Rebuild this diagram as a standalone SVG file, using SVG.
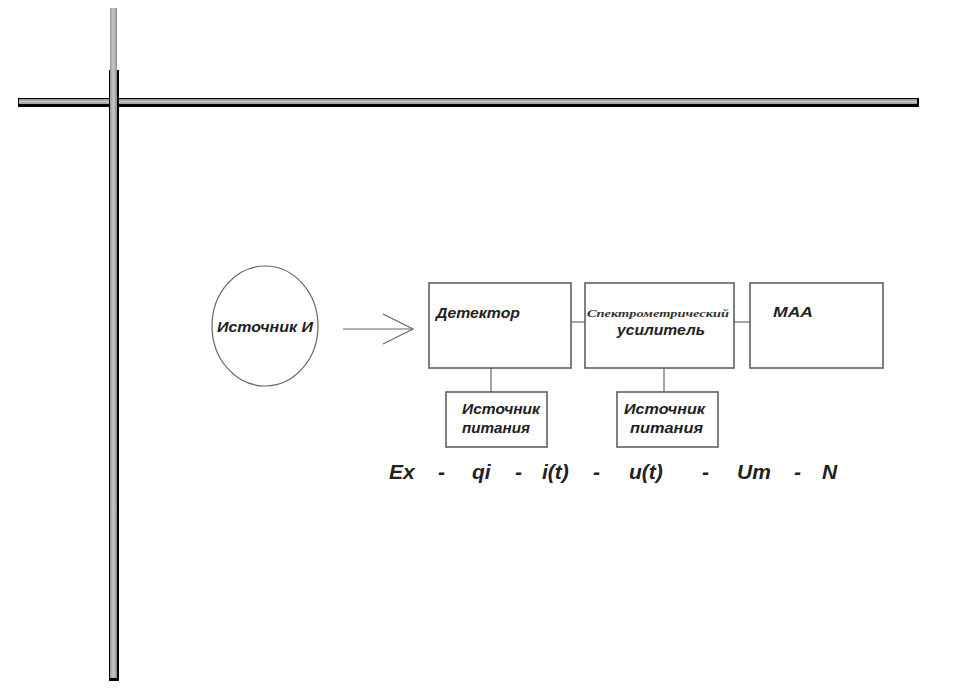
<svg xmlns="http://www.w3.org/2000/svg" width="960" height="699" viewBox="0 0 960 699">
<style>
.box{fill:#fff;stroke:#555;stroke-width:1.5}
.ln{stroke:#666;stroke-width:1.2;fill:none}
.lbl{font-family:"Liberation Sans",Arial,sans-serif;font-weight:bold;font-style:italic;fill:#222}
.sm{font-family:"Liberation Serif","Times New Roman",serif;font-weight:bold;font-style:italic;fill:#333}
</style>
<defs>
<linearGradient id="gh" x1="0" y1="0" x2="0" y2="1">
<stop offset="0" stop-color="#8c8c8c"/>
<stop offset="0.5" stop-color="#c4c4c4"/>
<stop offset="1" stop-color="#9a9a9a"/>
</linearGradient>
<linearGradient id="gv" x1="0" y1="0" x2="1" y2="0">
<stop offset="0" stop-color="#9a9a9a"/>
<stop offset="0.5" stop-color="#c8c8c8"/>
<stop offset="1" stop-color="#8c8c8c"/>
</linearGradient>
</defs>
<rect width="960" height="699" fill="#fff"/>
<g id="frame">
<rect x="18" y="98" width="901" height="9" fill="#000"/>
<rect x="19" y="99" width="898" height="5" fill="url(#gh)"/>
<rect x="110" y="8" width="7" height="62" fill="url(#gv)"/>
<rect x="109" y="70" width="10" height="611" fill="#000"/>
<rect x="110" y="70" width="7" height="608" fill="url(#gv)"/>
</g>
<g id="connectors">
<line class="ln" x1="343" y1="329" x2="413" y2="329"/>
<polyline class="ln" points="383,314 413,329 383,344"/>
<line class="ln" x1="571" y1="322" x2="585" y2="322"/>
<line class="ln" x1="734" y1="322" x2="750" y2="322"/>
<line class="ln" x1="491" y1="368" x2="491" y2="392"/>
<line class="ln" x1="664" y1="368" x2="664" y2="392"/>
</g>
<g id="source">
<ellipse cx="265" cy="326" rx="53" ry="60" fill="#fff" stroke="#666" stroke-width="1.2"/>
<text class="lbl" x="217" y="332" font-size="14" textLength="96" lengthAdjust="spacingAndGlyphs">Источник И</text>
</g>
<g id="detector">
<rect class="box" x="429" y="283" width="142" height="85"/>
<text class="lbl" x="436" y="318" font-size="14" textLength="84" lengthAdjust="spacingAndGlyphs">Детектор</text>
</g>
<g id="amplifier">
<rect class="box" x="585" y="283" width="149" height="85"/>
<text class="sm" x="587" y="317" font-size="10.5" textLength="142" lengthAdjust="spacingAndGlyphs">Спектрометрический</text>
<text class="lbl" x="617" y="335" font-size="14" textLength="88" lengthAdjust="spacingAndGlyphs">усилитель</text>
</g>
<g id="maa">
<rect class="box" x="750" y="283" width="133" height="85"/>
<text class="lbl" x="773" y="317" font-size="14" textLength="40" lengthAdjust="spacingAndGlyphs">MAA</text>
</g>
<g id="power1">
<rect class="box" x="446" y="392" width="101" height="55"/>
<text class="lbl" x="462" y="414" font-size="14" textLength="78" lengthAdjust="spacingAndGlyphs">Источник</text>
<text class="lbl" x="462" y="433" font-size="14" textLength="68" lengthAdjust="spacingAndGlyphs">питания</text>
</g>
<g id="power2">
<rect class="box" x="617" y="392" width="101" height="55"/>
<text class="lbl" x="624" y="414" font-size="14" textLength="81" lengthAdjust="spacingAndGlyphs">Источник</text>
<text class="lbl" x="630" y="433" font-size="14" textLength="73" lengthAdjust="spacingAndGlyphs">питания</text>
</g>
<g id="formula">
<text class="lbl" y="479" font-size="21"><tspan x="389">Ex</tspan><tspan x="438">-</tspan><tspan x="472">qi</tspan><tspan x="515">-</tspan><tspan x="542">i(t)</tspan><tspan x="593">-</tspan><tspan x="629">u(t)</tspan><tspan x="702">-</tspan><tspan x="737">Um</tspan><tspan x="794">-</tspan><tspan x="822">N</tspan></text>
</g>
</svg>
